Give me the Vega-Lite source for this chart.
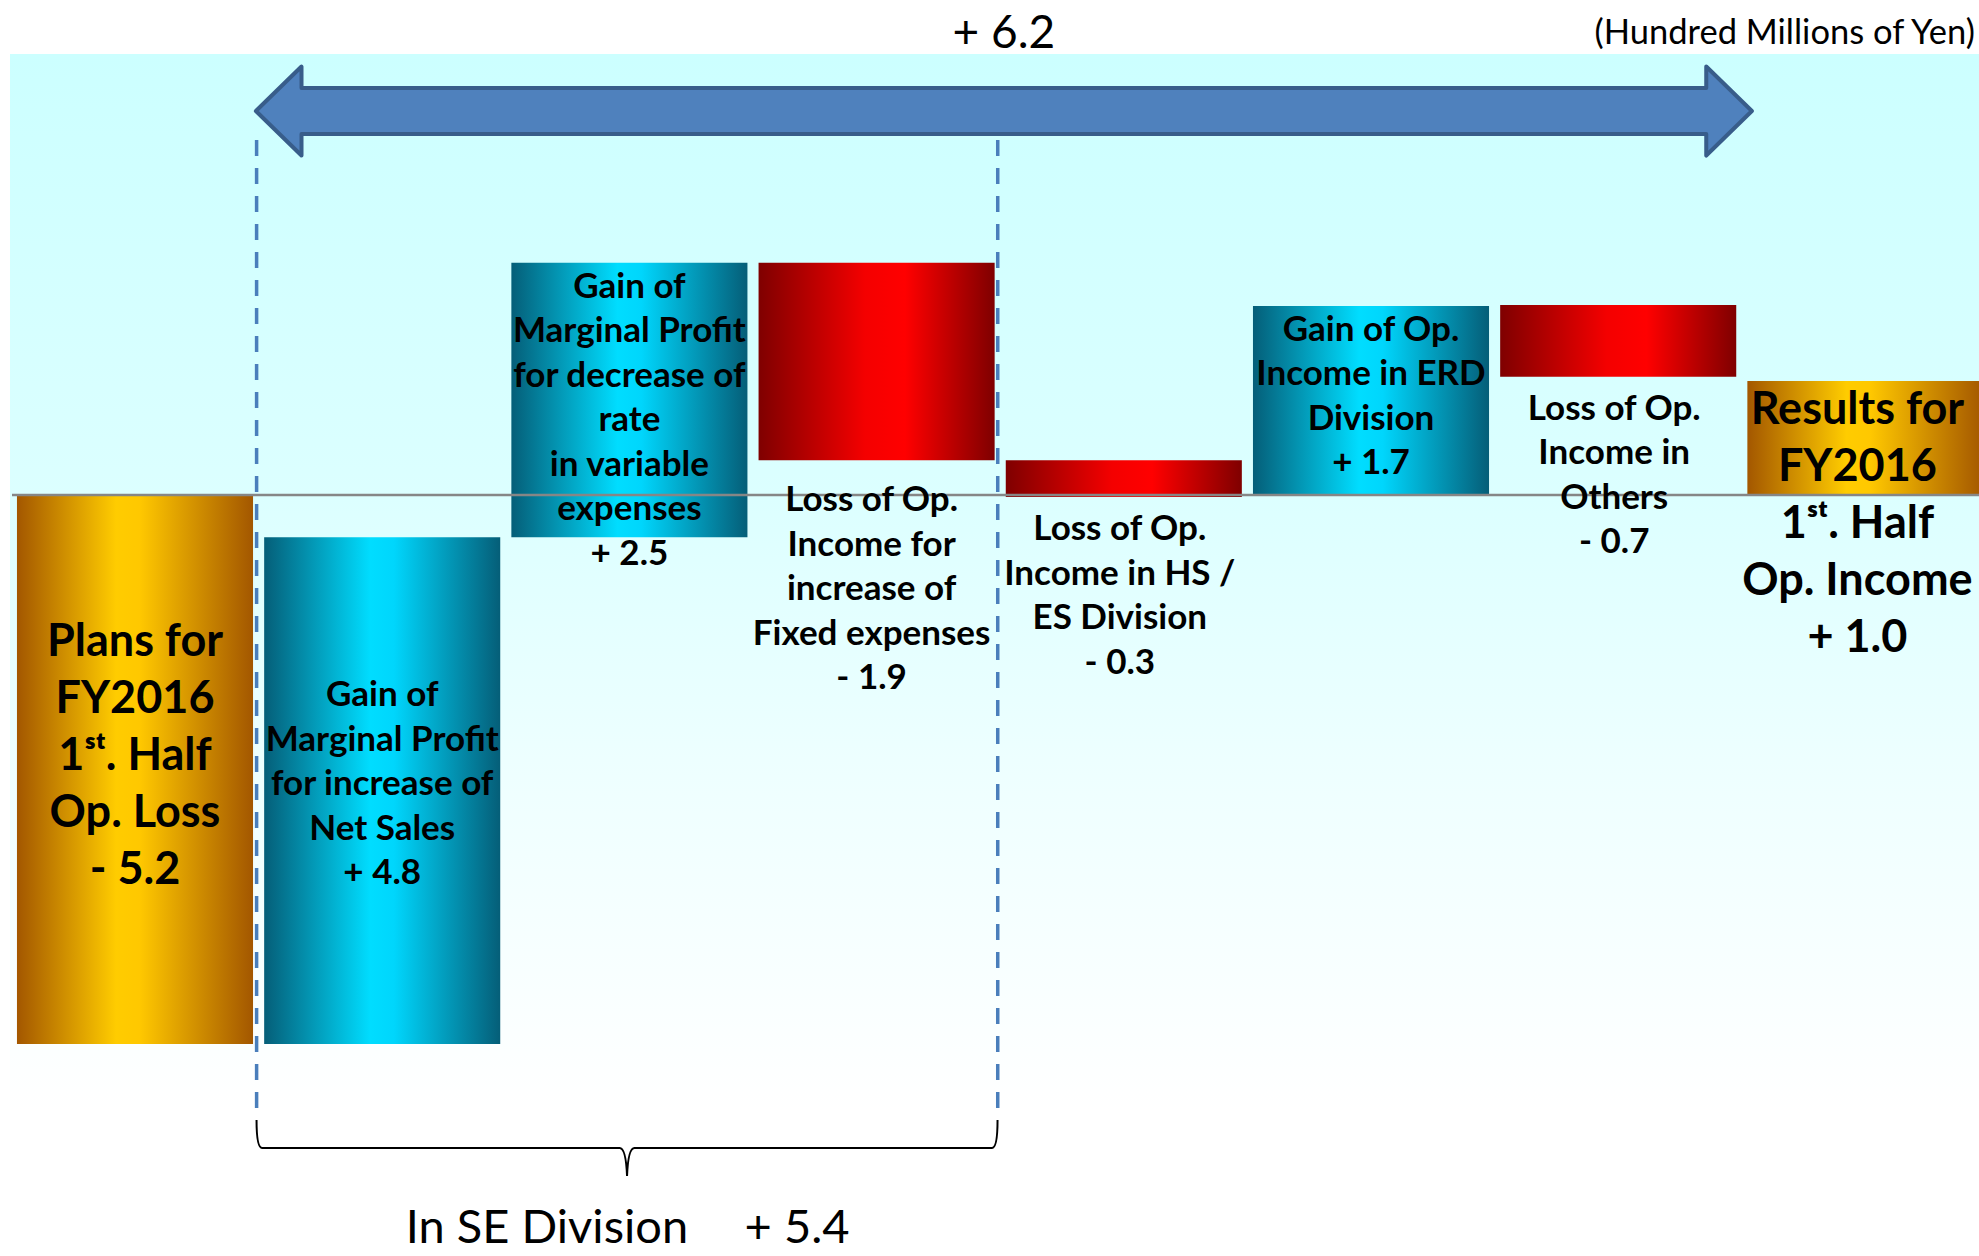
{
  "$schema": "https://vega.github.io/schema/vega-lite/v6.json",
  "width": 1979,
  "height": 1256,
  "autosize": {"type": "none"},
  "padding": 0,
  "background": "white",
  "config": {"view": {"stroke": null}},
  "data": {"values": [
    {"step": "Plans for FY2016 1st Half", "kind": "total", "start": 0, "end": -5.2, "label": "Plans for\nFY2016\n1ˢᵗ. Half\nOp. Loss\n- 5.2"},
    {"step": "Net Sales", "kind": "gain", "start": -5.2, "end": -0.4, "label": "Gain of\nMarginal Profit\nfor increase of\nNet Sales\n+ 4.8"},
    {"step": "Variable expenses rate", "kind": "gain", "start": -0.4, "end": 2.2, "label": "Gain of\nMarginal Profit\nfor decrease of\nrate\nin variable\nexpenses\n+ 2.5"},
    {"step": "Fixed expenses", "kind": "loss", "start": 2.2, "end": 0.33, "label": "Loss of Op.\nIncome for\nincrease of\nFixed expenses\n- 1.9"},
    {"step": "HS / ES Division", "kind": "loss", "start": 0.33, "end": -0.02, "label": "Loss of Op.\nIncome in HS /\nES Division\n- 0.3"},
    {"step": "ERD Division", "kind": "gain", "start": 0, "end": 1.79, "label": "Gain of Op.\nIncome in ERD\nDivision\n+ 1.7"},
    {"step": "Others", "kind": "loss", "start": 1.8, "end": 1.12, "label": "Loss of Op.\nIncome in\nOthers\n- 0.7"},
    {"step": "Results for FY2016 1st Half", "kind": "total", "start": 0, "end": 1.08, "label": "Results for\nFY2016\n1ˢᵗ. Half\nOp. Income\n+ 1.0"}
  ]},
  "layer": [
    {
      "data": {"values": [{}]},
      "mark": {"type": "rect", "color": {"gradient": "linear", "x1": 0, "y1": 0, "x2": 0, "y2": 1, "stops": [{"offset": 0, "color": "#ccffff"}, {"offset": 0.37, "color": "#dcffff"}, {"offset": 0.6, "color": "#eeffff"}, {"offset": 0.88, "color": "#ffffff"}, {"offset": 1, "color": "#ffffff"}]}},
      "encoding": {
        "x": {"datum": "Plans for FY2016 1st Half", "type": "nominal", "bandPosition": -0.0295, "axis": null,
              "scale": {"domain": ["Plans for FY2016 1st Half", "Net Sales", "Variable expenses rate", "Fixed expenses", "HS / ES Division", "ERD Division", "Others", "Results for FY2016 1st Half"], "range": [11.4, 1989], "paddingInner": 0.045, "paddingOuter": 0.0225}},
        "x2": {"datum": "Results for FY2016 1st Half", "bandPosition": 1.3},
        "y": {"datum": 4.176, "type": "quantitative", "axis": null, "scale": {"domain": [-7.2064, 4.6875], "nice": false, "zero": false}},
        "y2": {"datum": -7.2064}
      }
    },
    {
      "data": {"values": [{}]},
      "mark": {"type": "point", "shape": "M -1 0 L -0.939 -0.0595 L -0.939 -0.0307 L 0.939 -0.0307 L 0.939 -0.0595 L 1 0 L 0.939 0.0595 L 0.939 0.0307 L -0.939 0.0307 L -0.939 0.0595 Z", "size": 2238016, "filled": true, "fill": "#4f81bd", "stroke": "#385d8a", "strokeWidth": 4, "strokeJoin": "round", "opacity": 1},
      "encoding": {
        "x": {"datum": "HS / ES Division", "type": "nominal", "bandPosition": -0.008},
        "y": {"datum": 3.636, "type": "quantitative"}
      }
    },
    {
      "transform": [{"filter": "datum.kind === 'total'"}],
      "mark": {"type": "bar", "color": {"gradient": "linear", "x1": 0, "y1": 0, "x2": 1, "y2": 0, "stops": [{"offset": 0, "color": "#a35700"}, {"offset": 0.42, "color": "#ffcc00"}, {"offset": 0.52, "color": "#ffc800"}, {"offset": 1, "color": "#a35700"}]}},
      "encoding": {
        "x": {"field": "step", "type": "nominal", "sort": null},
        "y": {"field": "start", "type": "quantitative"},
        "y2": {"field": "end"}
      }
    },
    {
      "transform": [{"filter": "datum.kind === 'gain'"}],
      "mark": {"type": "bar", "color": {"gradient": "linear", "x1": 0, "y1": 0, "x2": 1, "y2": 0, "stops": [{"offset": 0, "color": "#055e78"}, {"offset": 0.45, "color": "#00ddff"}, {"offset": 0.55, "color": "#00d6fc"}, {"offset": 1, "color": "#055e78"}]}},
      "encoding": {
        "x": {"field": "step", "type": "nominal", "sort": null},
        "y": {"field": "start", "type": "quantitative"},
        "y2": {"field": "end"}
      }
    },
    {
      "transform": [{"filter": "datum.kind === 'loss'"}],
      "mark": {"type": "bar", "color": {"gradient": "linear", "x1": 0, "y1": 0, "x2": 1, "y2": 0, "stops": [{"offset": 0, "color": "#7f0000"}, {"offset": 0.45, "color": "#f40000"}, {"offset": 0.62, "color": "#ff0000"}, {"offset": 1, "color": "#7f0000"}]}},
      "encoding": {
        "x": {"field": "step", "type": "nominal", "sort": null},
        "y": {"field": "start", "type": "quantitative"},
        "y2": {"field": "end"}
      }
    },
    {
      "data": {"values": [{}]},
      "mark": {"type": "rule", "color": "#868686", "strokeWidth": 2.5},
      "encoding": {
        "x": {"datum": "Plans for FY2016 1st Half", "type": "nominal", "bandPosition": -0.021},
        "x2": {"datum": "Results for FY2016 1st Half", "bandPosition": 1.3},
        "y": {"datum": 0, "type": "quantitative"}
      }
    },
    {
      "data": {"values": [{}]},
      "mark": {"type": "rule", "color": "#4a7ebb", "strokeWidth": 3.5, "strokeDash": [16, 12]},
      "encoding": {
        "x": {"datum": "Net Sales", "type": "nominal", "bandPosition": -0.032},
        "y": {"datum": 3.362, "type": "quantitative"},
        "y2": {"datum": -5.919}
      }
    },
    {
      "data": {"values": [{}]},
      "mark": {"type": "rule", "color": "#4a7ebb", "strokeWidth": 3.5, "strokeDash": [16, 12]},
      "encoding": {
        "x": {"datum": "HS / ES Division", "type": "nominal", "bandPosition": -0.034},
        "y": {"datum": 3.362, "type": "quantitative"},
        "y2": {"datum": -5.919}
      }
    },
    {
      "data": {"values": [{}]},
      "mark": {"type": "point", "shape": "M -1 -0.0756 Q -1 0 -0.985 0 L -0.02 0 Q -0.003 0 0 0.0756 Q 0.003 0 0.02 0 L 0.985 0 Q 1 0 1 -0.0756", "size": 549081, "filled": false, "stroke": "black", "strokeWidth": 2, "opacity": 1},
      "encoding": {
        "x": {"datum": "Variable expenses rate", "type": "nominal", "bandPosition": 0.49},
        "y": {"datum": -6.184, "type": "quantitative"}
      }
    },
    {
      "transform": [{"filter": "datum.step === 'Variable expenses rate' || datum.step === 'ERD Division'"}],
      "mark": {"type": "text", "font": "Lato", "fontWeight": "bold", "fontSize": 35, "lineHeight": 44.5, "baseline": "top", "align": "center", "dy": 7, "lineBreak": "\n", "color": "black"},
      "encoding": {
        "x": {"field": "step", "type": "nominal", "sort": null},
        "y": {"field": "end", "type": "quantitative"},
        "text": {"field": "label"}
      }
    },
    {
      "transform": [{"filter": "datum.step === 'Net Sales'"}],
      "mark": {"type": "text", "font": "Lato", "fontWeight": "bold", "fontSize": 35, "lineHeight": 44.5, "baseline": "top", "align": "center", "dy": 141, "lineBreak": "\n", "color": "black"},
      "encoding": {
        "x": {"field": "step", "type": "nominal", "sort": null},
        "y": {"field": "end", "type": "quantitative"},
        "text": {"field": "label"}
      }
    },
    {
      "transform": [{"filter": "datum.step === 'HS / ES Division' || datum.step === 'Others'"}],
      "mark": {"type": "text", "font": "Lato", "fontWeight": "bold", "fontSize": 35, "lineHeight": 44.5, "baseline": "top", "align": "center", "dy": 15, "dx": -4, "lineBreak": "\n", "color": "black"},
      "encoding": {
        "x": {"field": "step", "type": "nominal", "sort": null},
        "y": {"field": "end", "type": "quantitative"},
        "text": {"field": "label"}
      }
    },
    {
      "transform": [{"filter": "datum.step === 'Fixed expenses'"}],
      "mark": {"type": "text", "font": "Lato", "fontWeight": "bold", "fontSize": 35, "lineHeight": 44.5, "baseline": "top", "align": "center", "dy": 23, "dx": -5, "lineBreak": "\n", "color": "black"},
      "encoding": {
        "x": {"field": "step", "type": "nominal", "sort": null},
        "y": {"field": "end", "type": "quantitative"},
        "text": {"field": "label"}
      }
    },
    {
      "transform": [{"filter": "datum.step === 'Plans for FY2016 1st Half'"}],
      "mark": {"type": "text", "font": "Lato", "fontWeight": "bold", "fontSize": 45, "lineHeight": 57, "baseline": "top", "align": "center", "dy": 125, "lineBreak": "\n", "color": "black"},
      "encoding": {
        "x": {"field": "step", "type": "nominal", "sort": null},
        "y": {"field": "start", "type": "quantitative"},
        "text": {"field": "label"}
      }
    },
    {
      "transform": [{"filter": "datum.step === 'Results for FY2016 1st Half'"}],
      "mark": {"type": "text", "font": "Lato", "fontWeight": "bold", "fontSize": 45, "lineHeight": 57, "baseline": "top", "align": "center", "dy": 7, "dx": -8, "lineBreak": "\n", "color": "black"},
      "encoding": {
        "x": {"field": "step", "type": "nominal", "sort": null},
        "y": {"field": "end", "type": "quantitative"},
        "text": {"field": "label"}
      }
    },
    {
      "data": {"values": [{"t": "+ 6.2"}]},
      "mark": {"type": "text", "font": "Lato", "fontSize": 46, "baseline": "alphabetic", "align": "center", "color": "black"},
      "encoding": {
        "x": {"datum": "HS / ES Division", "type": "nominal", "bandPosition": -0.008},
        "y": {"datum": 4.233, "type": "quantitative"},
        "text": {"field": "t"}
      }
    },
    {
      "data": {"values": [{"t": "(Hundred Millions of Yen)"}]},
      "mark": {"type": "text", "font": "Lato", "fontSize": 34.5, "baseline": "alphabetic", "align": "right", "color": "black"},
      "encoding": {
        "x": {"datum": "Results for FY2016 1st Half", "type": "nominal", "bandPosition": 0.964},
        "y": {"datum": 4.271, "type": "quantitative"},
        "text": {"field": "t"}
      }
    },
    {
      "data": {"values": [{"t": "In SE Division"}]},
      "mark": {"type": "text", "font": "Lato", "fontSize": 47, "baseline": "alphabetic", "align": "center", "color": "black"},
      "encoding": {
        "x": {"datum": "Net Sales", "type": "nominal", "bandPosition": 1.198},
        "y": {"datum": -7.083, "type": "quantitative"},
        "text": {"field": "t"}
      }
    },
    {
      "data": {"values": [{"t": "+ 5.4"}]},
      "mark": {"type": "text", "font": "Lato", "fontSize": 47, "baseline": "alphabetic", "align": "center", "color": "black"},
      "encoding": {
        "x": {"datum": "Fixed expenses", "type": "nominal", "bandPosition": 0.163},
        "y": {"datum": -7.083, "type": "quantitative"},
        "text": {"field": "t"}
      }
    }
  ]
}
